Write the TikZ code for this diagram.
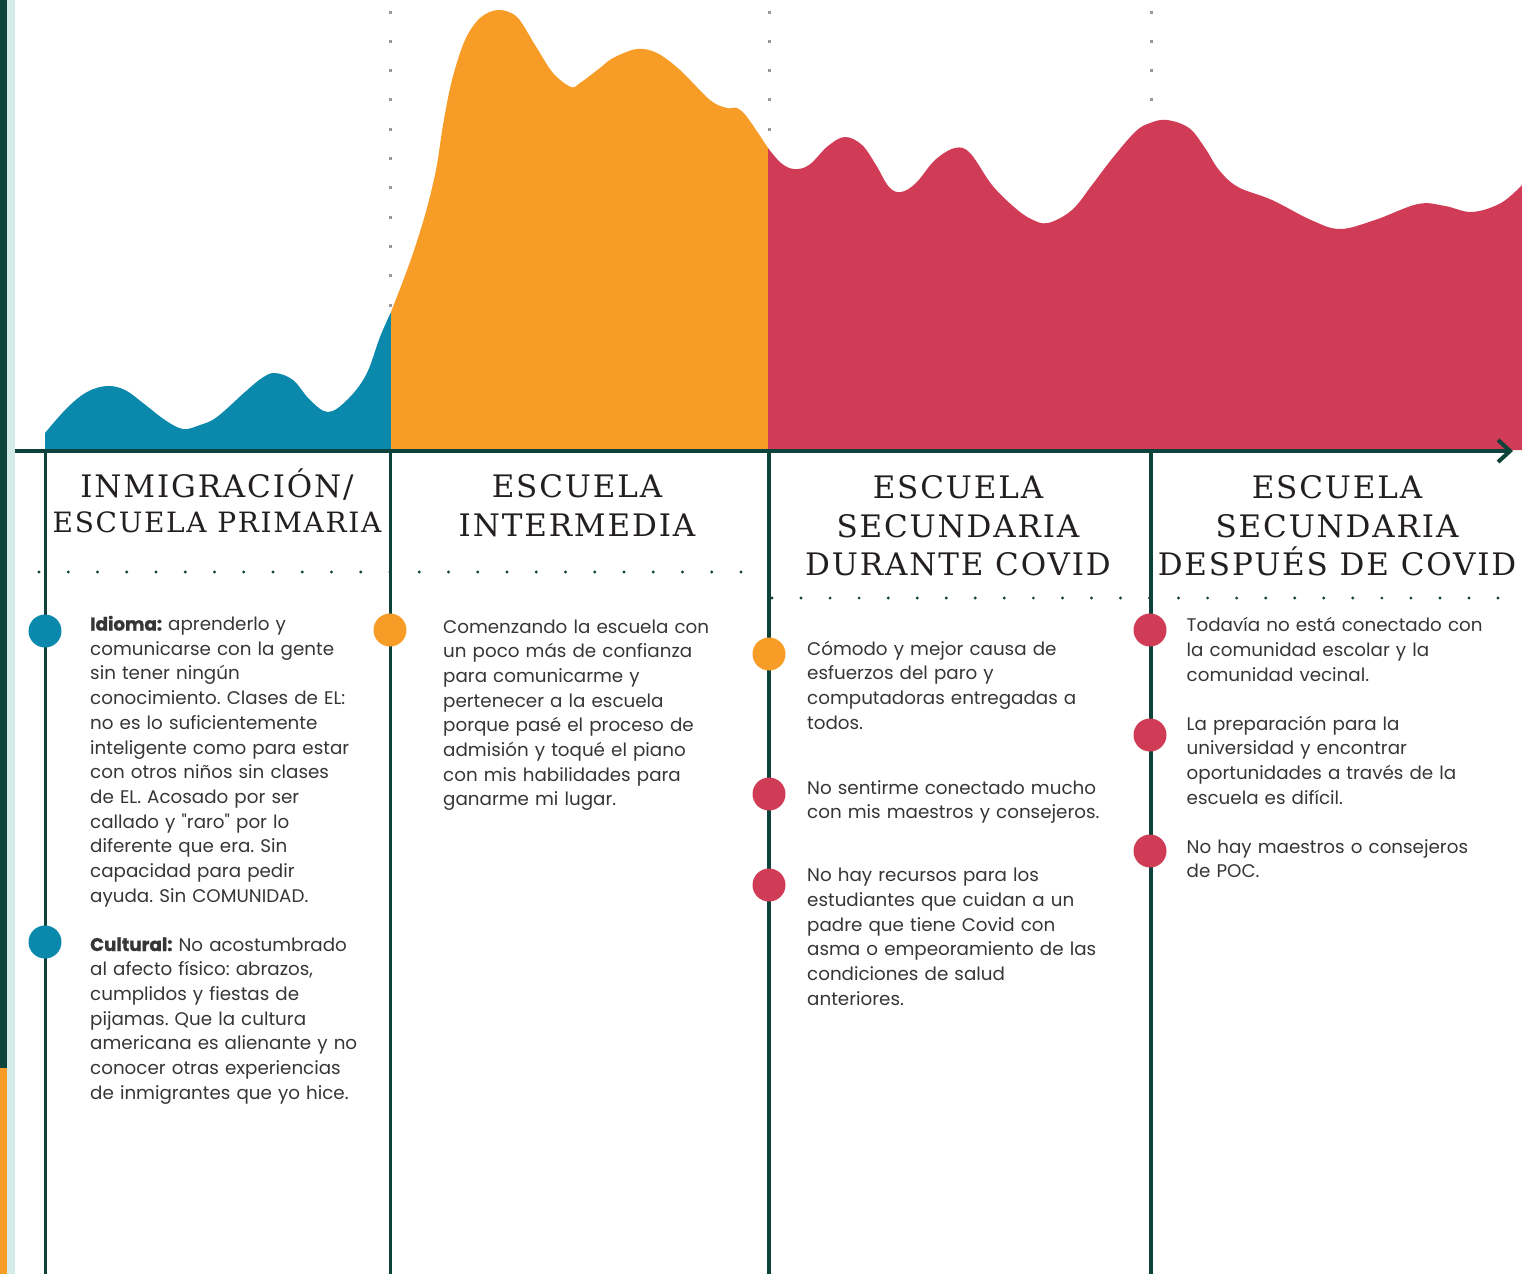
\documentclass[tikz,border=0pt]{standalone}
\usepackage{fontspec}
\setmainfont{Poppins}[Ligatures=TeXOff]
\newfontfamily\titlefont[LetterSpace=6]{DejaVu Serif}
\usetikzlibrary{arrows.meta}
\definecolor{cblue}{HTML}{0A89AD}
\definecolor{corange}{HTML}{F79D27}
\definecolor{cred}{HTML}{D03C55}
\definecolor{cdark}{HTML}{0D433A}
\definecolor{cmint}{HTML}{D3ECE8}
\definecolor{cgray}{HTML}{9A9A9A}
\definecolor{ctitle}{HTML}{231F20}
\definecolor{ctext}{HTML}{363636}
\newcommand{\hb}[1]{{\bfseries\addfontfeature{FakeBold=1.2}#1}}
\begin{document}
\frenchspacing
\begin{tikzpicture}[x=1pt,y=-1pt,
  ttl/.style={anchor=base, inner sep=0pt, font=\titlefont\fontsize{31}{36}\selectfont, text=ctitle},
  ttlsmall/.style={ttl, font=\titlefont\fontsize{28}{34}\selectfont},
  body/.style={anchor=base west, text width=380pt, align=left, inner sep=0pt,
    font=\frenchspacing\fontsize{18.3}{24.7}\selectfont, text=ctext},
  vline/.style={draw=cdark, line width=3.5pt},
  dotmark/.style={circle, inner sep=0pt, minimum size=33pt}
]
\useasboundingbox (0,0) rectangle (1522,1274);
\fill[white] (0,0) rectangle (1522,1274);
% left strip
\fill[cdark] (0,0) rectangle (7,1068);
\fill[corange] (0,1068) rectangle (7,1274);
\fill[cmint] (7,0) rectangle (15,1274);
% gray dotted verticals
\foreach \xx in {390,769,1151}{
  \foreach \k in {0,...,14}{
    \fill[cgray] ({\xx-1.5},{12+29.3*\k-1.5}) rectangle ++(3,3);
  }
}
% area curves
\fill[cblue] (45,450) -- plot[smooth,tension=0.6] coordinates {
 (45,433) (67,408) (87,392) (107,386) (125,390) (143,403) (165,420) (183,429) (200,425) (217,417)
 (245,392) (262,378) (275,373) (293,380) (310,400) (328,412) (347,400) (366,375) (380,337) (391,312)}
 -- (391,450) -- cycle;
\fill[corange] (391,450) -- plot[smooth,tension=0.55] coordinates {
 (391,312) (410,262) (425,215) (436,170) (443,125) (452,80) (465,40) (480,18) (498,10) (517,17)
 (535,45) (553,73) (571,87) (580,83) (600,68) (613,58) (637,49) (657,53) (680,70) (710,100)
 (727,108) (737,108) (747,117) (768,148)}
 -- (768,450) -- cycle;
\fill[cred] (768,450) -- plot[smooth,tension=0.6] coordinates {
 (768,148) (781,163) (794,169) (809,165) (828,146) (845,137) (862,145) (876,165) (889,187) (901,192)
 (916,183) (935,160) (955,148) (970,153) (992,185) (1014,207) (1031,219) (1048,223) (1072,210)
 (1092,185) (1111,160) (1135,132) (1150,123) (1167,120) (1189,128) (1205,148) (1219,170) (1238,187)
 (1272,200) (1311,220) (1340,229) (1375,220) (1418,204) (1445,206) (1472,212) (1501,203) (1522,185)}
 -- (1522,450) -- cycle;
% vertical timeline lines
\foreach \xx in {45.5,390.5,769,1151}{
  \draw[vline] (\xx,451) -- (\xx,1274);
}
% axis
\draw[draw=cdark, line width=4pt, -{Straight Barb[length=12pt,width=22pt]}] (15,451) -- (1513,451);
% dotted horizontal rows
\foreach \k in {0,...,24}{ \fill[cdark] ({39+29.25*\k},572) circle[radius=1.6pt]; }
\foreach \k in {0,...,25}{ \fill[cdark] ({772+29.04*\k},598) circle[radius=1.6pt]; }
% titles
\node[ttl] (t1a) at (217,497) {INMIGRACIÓN/};
\node[ttlsmall] (t1b) at (217,532) {ESCUELA PRIMARIA};
\node[ttl] (t2a) at (577,497) {ESCUELA};
\node[ttl] (t2b) at (577,536) {INTERMEDIA};
\node[ttl] (t3a) at (958,498) {ESCUELA};
\node[ttl] (t3b) at (958,537) {SECUNDARIA};
\node[ttl] (t3c) at (958,575) {DURANTE COVID};
\node[ttl] (t4a) at (1337,498) {ESCUELA};
\node[ttl] (t4b) at (1337,537) {SECUNDARIA};
\node[ttl] (t4c) at (1337,575) {DESPUÉS DE COVID};
% markers
\node[dotmark, fill=cblue] (m1a) at (45,631) {};
\node[dotmark, fill=cblue] (m1b) at (45,942) {};
\node[dotmark, fill=corange] (m2a) at (390,630) {};
\node[dotmark, fill=corange] (m3a) at (769,654) {};
\node[dotmark, fill=cred] (m3b) at (769,794) {};
\node[dotmark, fill=cred] (m3c) at (769,885) {};
\node[dotmark, fill=cred] (m4a) at (1150,630) {};
\node[dotmark, fill=cred] (m4b) at (1150,735) {};
\node[dotmark, fill=cred] (m4c) at (1150,851) {};
% body texts
\node[body] (b1a) at (90,630.5) {\hb{Idioma:} aprenderlo y\\comunicarse con la gente\\sin tener ningún\\conocimiento. Clases de EL:\\no es lo suficientemente\\inteligente como para estar\\con otros niños sin clases\\de EL. Acosado por ser\\callado y "raro" por lo\\diferente que era. Sin\\capacidad para pedir\\ayuda. Sin COMUNIDAD.};
\node[body] (b1b) at (90,951) {\hb{Cultural:} No acostumbrado\\al afecto físico: abrazos,\\cumplidos y fiestas de\\pijamas. Que la cultura\\americana es alienante y no\\conocer otras experiencias\\de inmigrantes que yo hice.};
\node[body] (b2a) at (443,633) {Comenzando la escuela con\\un poco más de confianza\\para comunicarme y\\pertenecer a la escuela\\porque pasé el proceso de\\admisión y toqué el piano\\con mis habilidades para\\ganarme mi lugar.};
\node[body] (b3a) at (807,655) {Cómodo y mejor causa de\\esfuerzos del paro y\\computadoras entregadas a\\todos.};
\node[body] (b3b) at (807,794) {No sentirme conectado mucho\\con mis maestros y consejeros.};
\node[body] (b3c) at (807,881.7) {No hay recursos para los\\estudiantes que cuidan a un\\padre que tiene Covid con\\asma o empeoramiento de las\\condiciones de salud\\anteriores.};
\node[body] (b4a) at (1186.5,631.7) {Todavía no está conectado con\\la comunidad escolar y la\\comunidad vecinal.};
\node[body] (b4b) at (1186.5,730) {La preparación para la\\universidad y encontrar\\oportunidades a través de la\\escuela es difícil.};
\node[body] (b4c) at (1186.5,853) {No hay maestros o consejeros\\de POC.};
\end{tikzpicture}
\end{document}
